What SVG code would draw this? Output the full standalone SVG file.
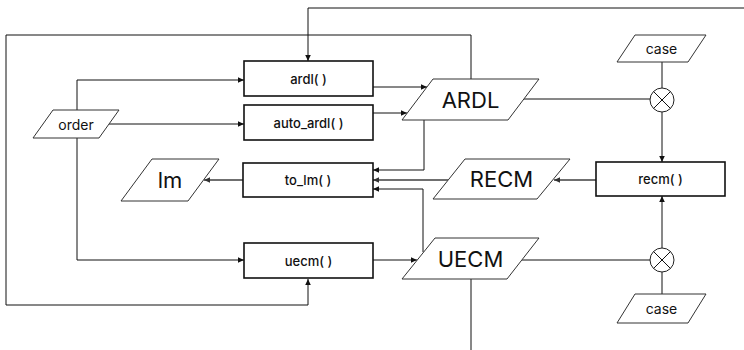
<svg xmlns="http://www.w3.org/2000/svg" width="744" height="350" viewBox="0 0 744 350">
  <style>
    .box { fill: #ffffff; stroke: #111111; stroke-width: 1.6; }
    .data { fill: #ffffff; stroke: #333333; stroke-width: 1; }
    .lbl { font-family: Inter, "Noto Sans", "Liberation Sans", sans-serif; fill: #111111; text-anchor: middle; dominant-baseline: central; }
    .fn { font-size: 13px; font-weight: 500; }
    .sm { font-size: 14px; }
    .big { font-size: 22px; }
    .wire { fill: none; stroke: #111111; stroke-width: 1; }
    .wire-g { fill: none; stroke: #6f6f6f; stroke-width: 1.8; }
    .junction { fill: #ffffff; stroke: #222222; stroke-width: 1; }
  </style>
  <defs>
    <marker id="arr" markerUnits="userSpaceOnUse" markerWidth="8" markerHeight="8" refX="7" refY="4" orient="auto">
      <path d="M1,1.2 L7,4 L1,6.8 Z" fill="#111111"/>
    </marker>
    <marker id="arr-g" markerUnits="userSpaceOnUse" markerWidth="8" markerHeight="8" refX="7" refY="4" orient="auto">
      <path d="M1,1.2 L7,4 L1,6.8 Z" fill="#333333"/>
    </marker>
  </defs>

  <g id="connectors">
    <path class="wire" d="M744,8 H308 V61" marker-end="url(#arr)"/>
    <path class="wire" d="M471,79 V35 H6 V305 H308 V279" marker-end="url(#arr)"/>
    <path class="wire" d="M77,110 V80 H244" marker-end="url(#arr)"/>
    <path class="wire" d="M109,124 H244" marker-end="url(#arr)"/>
    <path class="wire" d="M77,138 V260 H244" marker-end="url(#arr)"/>
    <path class="wire" d="M373,87 H427" marker-end="url(#arr)"/>
    <path class="wire" d="M373,113 H407" marker-end="url(#arr)"/>
    <path class="wire" d="M424,120 V170 H373" marker-end="url(#arr)"/>
    <path class="wire-g" d="M448,180 H373" marker-end="url(#arr-g)"/>
    <path class="wire" d="M423,252 V189 H373" marker-end="url(#arr)"/>
    <path class="wire-g" d="M243,180 H204" marker-end="url(#arr-g)"/>
    <path class="wire" d="M373,260 H417" marker-end="url(#arr)"/>
    <path class="wire" d="M524,99 H650"/>
    <path class="wire" d="M662,62 V88"/>
    <path class="wire" d="M662,112 V162" marker-end="url(#arr)"/>
    <path class="wire-g" d="M596,180 H554" marker-end="url(#arr-g)"/>
    <path class="wire" d="M522,260 H650"/>
    <path class="wire" d="M662,294 V272"/>
    <path class="wire" d="M662,248 V196" marker-end="url(#arr)"/>
    <path class="wire" d="M471,279 V350"/>
  </g>

  <g id="ardl">
    <rect class="box" x="244" y="61" width="129" height="35"/>
    <text class="lbl fn" x="308.5" y="78.5">ardl( )</text>
  </g>
  <g id="auto_ardl">
    <rect class="box" x="244" y="105" width="129" height="35"/>
    <text class="lbl fn" x="308.5" y="122.5">auto_ardl( )</text>
  </g>
  <g id="to_lm">
    <rect class="box" x="243" y="163" width="130" height="34"/>
    <text class="lbl fn" x="308" y="180">to_lm( )</text>
  </g>
  <g id="uecm">
    <rect class="box" x="244" y="243" width="129" height="35"/>
    <text class="lbl fn" x="308.5" y="260.5">uecm( )</text>
  </g>
  <g id="recm">
    <rect class="box" x="596" y="162" width="129" height="34"/>
    <text class="lbl fn" x="660.5" y="179">recm( )</text>
  </g>

  <g id="order">
    <polygon class="data" points="53,110 119,110 99,138 33,138"/>
    <text class="lbl sm" x="76" y="124">order</text>
  </g>
  <g id="ARDL">
    <polygon class="data" points="433,79 539,79 508,120 402,120"/>
    <text class="lbl big" x="470.5" y="99.5">ARDL</text>
  </g>
  <g id="UECM">
    <polygon class="data" points="435,238 539,238 507,279 402,279"/>
    <text class="lbl big" x="470.5" y="258.5">UECM</text>
  </g>
  <g id="RECM">
    <polygon class="data" points="465,159 570,159 537,199 433,199"/>
    <text class="lbl big" x="501.5" y="179">RECM</text>
  </g>
  <g id="lm">
    <polygon class="data" points="152,159 219,159 188,201 121,201"/>
    <text class="lbl big" x="170" y="180">lm</text>
  </g>
  <g id="case_top">
    <polygon class="data" points="635,35 706,35 688,62 617,62"/>
    <text class="lbl sm" x="661.5" y="48.5">case</text>
  </g>
  <g id="case_bottom">
    <polygon class="data" points="635,294 706,294 688,323 617,323"/>
    <text class="lbl sm" x="661.5" y="308.5">case</text>
  </g>

  <g id="mix_top">
    <circle class="junction" cx="662" cy="100" r="12"/>
    <path class="wire" d="M653.5,91.5 L670.5,108.5 M670.5,91.5 L653.5,108.5"/>
  </g>
  <g id="mix_bottom">
    <circle class="junction" cx="662" cy="260" r="12"/>
    <path class="wire" d="M653.5,251.5 L670.5,268.5 M670.5,251.5 L653.5,268.5"/>
  </g>
</svg>
